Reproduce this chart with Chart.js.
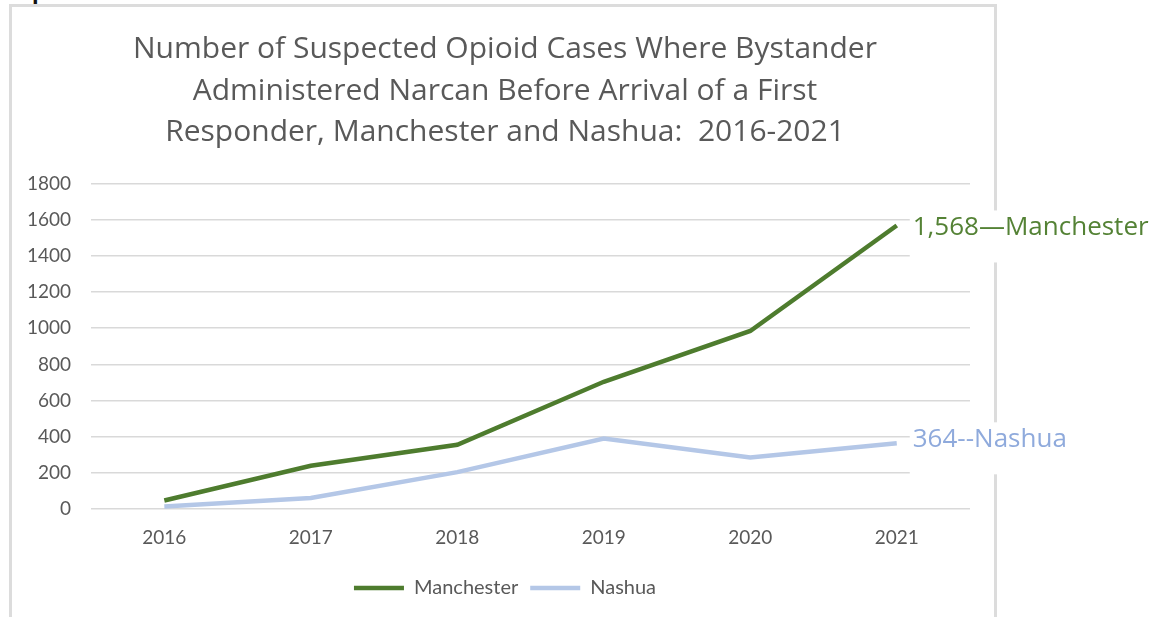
<!DOCTYPE html>
<html>
<head>
<meta charset="utf-8">
<script src="https://cdn.jsdelivr.net/npm/chart.js@4"></script>
<style>
  html, body { margin: 0; padding: 0; background: #fff; }
  body { width: 1151px; height: 617px; position: relative; overflow: hidden; font-family: Lato, sans-serif; }
  #frame {
    position: absolute; left: 9px; top: 4px; width: 982px; height: 700px;
    border: 3px solid #dcdcdc; box-sizing: content-box;
  }
  #clip { position: absolute; left: 30px; top: 0; width: 20px; height: 8px; overflow: hidden; }
  #clip span { position: absolute; left: 2px; top: -22px; font: bold 24px "Liberation Sans", sans-serif; color: #111; }
  #wrap { position: absolute; left: 0; top: 0; width: 1151px; height: 617px; }
</style>
</head>
<body>
<div id="clip"><span>p</span></div>
<div id="frame"></div>
<div id="wrap"><canvas id="narcanChart"></canvas></div>
<script>
// data
const years = ['2016', '2017', '2018', '2019', '2020', '2021'];
const manchester = [48, 240, 356, 704, 985, 1568];
const nashua = [15, 62, 205, 391, 286, 364];
const yTicks = [0, 200, 400, 600, 800, 1000, 1200, 1400, 1600, 1800];
const endLabels = ['1,568\u2014Manchester', '364--Nashua'];
const titleLines = [
    'Number of Suspected Opioid Cases Where Bystander',
    'Administered Narcan Before Arrival of a First',
    'Responder, Manchester and Nashua:  2016-2021'
];

const greenLine = '#4e7c2e';
const blueLine = '#b4c7e7';

// Draws the value labels next to the last point, on a white box
const endLabelPlugin = {
    id: 'endLabels',
    afterDatasetsDraw(chart) {
        const ctx = chart.ctx;
        const colors = ['#548235', '#8faadc'];
        const nudge = [2, -4];
        ctx.save();
        ctx.font = '26px "Open Sans", sans-serif';
        ctx.textBaseline = 'middle';
        chart.data.datasets.forEach((ds, i) => {
            const meta = chart.getDatasetMeta(i);
            const pt = meta.data[meta.data.length - 1];
            const y = pt.y + nudge[i];
            const w = ctx.measureText(endLabels[i]).width;
            ctx.fillStyle = '#fff';
            ctx.fillRect(pt.x + 13, y - 17, w + 10, 52);
            ctx.fillStyle = colors[i];
            ctx.fillText(endLabels[i], pt.x + 16, y);
        });
        ctx.restore();
    }
};

// Title and legend are centred over the plot plus the y labels, as in Excel
const centreBoxes = {
    id: 'centreBoxes',
    afterLayout(chart) {
        [chart.titleBlock, chart.legend].forEach(box => {
            if (!box) return;
            box.left = 40;
            box.right = chart.chartArea.right;
        });
    }
};

document.addEventListener('DOMContentLoaded', function () {
    const ctx = document.getElementById('narcanChart');

    new Chart(ctx, {
        type: 'line',
        data: {
            labels: years,
            datasets: [{
                label: 'Manchester',
                data: manchester,
                borderColor: greenLine,
                backgroundColor: greenLine,
                borderWidth: 4.5,
                pointRadius: 0,
                tension: 0
            }, {
                label: 'Nashua',
                data: nashua,
                borderColor: blueLine,
                backgroundColor: blueLine,
                borderWidth: 4.5,
                pointRadius: 0,
                tension: 0
            }]
        },
        options: {
            responsive: false,
            animation: false,
            layout: {
                padding: { left: 7, right: 181, top: 0, bottom: 9 }
            },
            plugins: {
                title: {
                    display: true,
                    text: titleLines,
                    color: '#595959',
                    font: { family: 'Open Sans', size: 30, weight: 'normal', lineHeight: 1.383 },
                    padding: { top: 29, bottom: 30 }
                },
                legend: {
                    position: 'bottom',
                    labels: {
                        usePointStyle: true,
                        pointStyle: 'line',
                        pointStyleWidth: 50,
                        color: '#595959',
                        font: { family: 'Lato', size: 20 },
                        padding: 12
                    }
                },
                tooltip: { enabled: false }
            },
            scales: {
                y: {
                    min: 0,
                    max: 1800,
                    afterBuildTicks: axis => { axis.ticks = yTicks.map(v => ({ value: v })); },
                    border: { display: false },
                    grid: { color: '#d9d9d9', lineWidth: 1.5, drawTicks: false },
                    ticks: {
                        color: '#595959',
                        padding: 20,
                        font: { family: 'Lato', size: 19 },
                        callback: value => String(value)
                    }
                },
                x: {
                    offset: true,
                    border: { display: false },
                    grid: { display: false, drawTicks: false },
                    ticks: {
                        color: '#595959',
                        padding: 17,
                        font: { family: 'Lato', size: 19 }
                    }
                }
            }
        },
        plugins: [endLabelPlugin, centreBoxes]
    });
});

// size canvas to the page before the chart reads it
const cv = document.getElementById('narcanChart');
cv.width = 1151;
cv.height = 617;
</script>
</body>
</html>
